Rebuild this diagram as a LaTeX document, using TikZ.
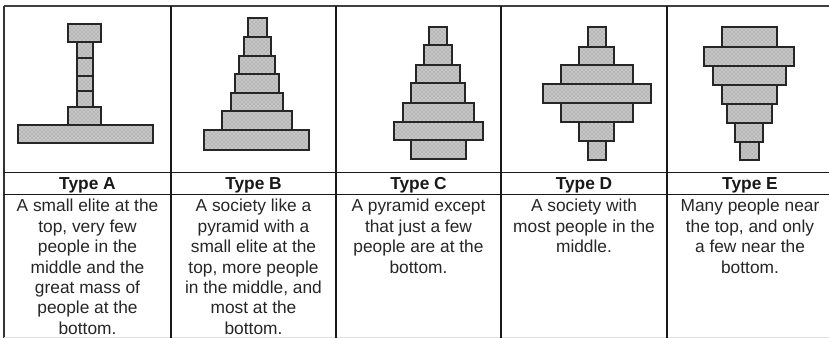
\documentclass[tikz,border=0pt]{standalone}
\usepackage{fontspec}
\setmainfont{Liberation Sans}
\usetikzlibrary{patterns}
\tikzset{
  block/.style={draw=black!85,line width=1.4pt,pattern=crosshatch dots,pattern color=gray!95,preaction={fill=gray!45}},
  rule/.style={draw=black!90,line width=0.8pt},
  head/.style={anchor=base,inner sep=0pt,font=\fontsize{13pt}{15.3pt}\selectfont\bfseries,text=black!90},
  desc/.style={anchor=north,inner sep=0pt,align=center,font=\fontsize{13pt}{15.3pt}\selectfont,text=black!85}
}
\begin{document}
\begin{tikzpicture}[x=0.75pt,y=-0.75pt]
  \useasboundingbox[fill=white] (0,0) rectangle (829,338);
  % table
  \draw[gray!50!black,line width=1.5pt] (4,6) -- (829,6);
  \draw[gray!40!black,line width=1.2pt] (4,6) -- (4,338);
  \draw[gray!25,line width=0.6pt] (4,337) -- (829,337);
  \foreach \x in {171,336,501,667}
    \draw[rule] (\x,6) -- (\x,338);
  \draw[rule] (4,172.7) -- (829,172.7);
  \draw[rule] (4,194.3) -- (829,194.3);
  % Type A
  \foreach \xa/\ya/\xb/\yb in {68.3/24.3/101/41.7, 76.7/41.7/92.7/58.3, 76.7/58.3/92.7/75.7,
      76.7/75.7/92.7/91, 76.7/91/92.7/107.3, 68.3/107.3/101/125, 18.3/125/153.3/142.7}
    \draw[block] (\xa,\ya) rectangle (\xb,\yb);
  % Type B
  \foreach \xa/\ya/\xb/\yb in {248.3/17.7/266.7/37.3, 244/37.3/271/56, 239/56/275/74,
      235/74/279/93.3, 230.7/93.3/283.3/111, 222.3/111/291.7/130, 204/130/309.3/150}
    \draw[block] (\xa,\ya) rectangle (\xb,\yb);
  % Type C
  \foreach \xa/\ya/\xb/\yb in {429/27.3/447.3/45, 424.3/45/451.7/65, 416/65/460/83.3,
      411/83.3/465/102.7, 402.7/102.7/474.3/121.7, 394/121.7/483.3/140, 411/140/465.7/159}
    \draw[block] (\xa,\ya) rectangle (\xb,\yb);
  % Type D
  \foreach \xa/\ya/\xb/\yb in {587.7/27.3/606/46.7, 579/46.7/614.3/65, 561/65/632.7/84.3,
      543.3/84.3/651/103.3, 561/103.3/632.7/121.7, 579/121.7/614.3/140.7, 587.7/140.7/606/160}
    \draw[block] (\xa,\ya) rectangle (\xb,\yb);
  % Type E
  \foreach \xa/\ya/\xb/\yb in {721.7/27.3/776.7/47.3, 704.3/47.3/794.3/66, 712.7/66/786/85,
      721.7/85/776.7/104, 727.3/104/771.7/122.7, 735/122.7/763.3/141.7, 740/141.7/759/160}
    \draw[block] (\xa,\ya) rectangle (\xb,\yb);
  % headings
  \node[head] (hA) at (87.5,190) {Type A};
  \node[head] (hB) at (253.5,190) {Type B};
  \node[head] (hC) at (418.5,190) {Type C};
  \node[head] (hD) at (584,190) {Type D};
  \node[head] (hE) at (750,190) {Type E};
  % descriptions
  \node[desc] (dA) at (87.5,199) {A small elite at the\\top, very few\\people in the\\middle and the\\great mass of\\people at the\\bottom.};
  \node[desc] (dB) at (253.5,199) {A society like a\\pyramid with a\\small elite at the\\top, more people\\in the middle, and\\most at the\\bottom.};
  \node[desc] (dC) at (418.5,199) {A pyramid except\\that just a few\\people are at the\\bottom.};
  \node[desc] (dD) at (584,199) {A society with\\most people in the\\middle.};
  \node[desc] (dE) at (750,199) {Many people near\\the top, and only\\a few near the\\bottom.};
\end{tikzpicture}
\end{document}
